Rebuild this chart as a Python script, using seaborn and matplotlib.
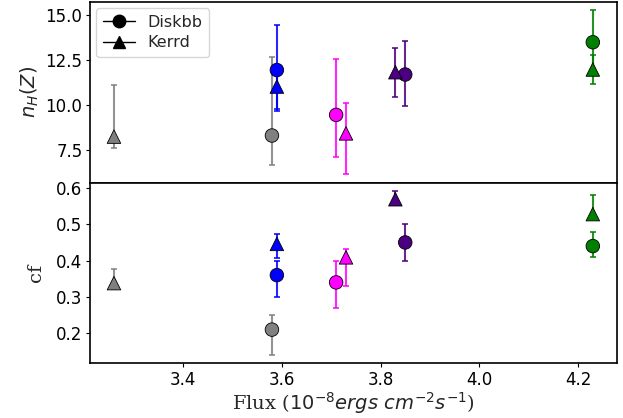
import matplotlib.pyplot as plt
import matplotlib.lines as mlines
import seaborn as sns
import pandas as pd

# colours of each observation
colors = ['grey', 'blue', 'magenta', 'indigo', 'green']

# flux values
flux_disk = [3.58, 3.59, 3.71, 3.85, 4.23]
flux_kerr = [3.26, 3.59, 3.73, 3.83, 4.23]

# nH (Z) with asymmetric errors
nh_disk = [8.3, 11.95, 9.45, 11.7, 13.5]
nh_disk_lo = [1.64, 2.15, 2.37, 1.78, 1.5]
nh_disk_hi = [4.37, 2.5, 3.11, 1.85, 1.78]
nh_kerr = [8.24, 11.03, 8.42, 11.83, 11.98]
nh_kerr_lo = [0.61, 1.34, 2.29, 1.36, 0.83]
nh_kerr_hi = [2.89, 1.0, 1.7, 1.34, 0.8]

# covering fraction with asymmetric errors
cf_disk = [0.21, 0.36, 0.34, 0.45, 0.44]
cf_disk_lo = [0.07, 0.06, 0.07, 0.05, 0.03]
cf_disk_hi = [0.04, 0.04, 0.06, 0.05, 0.04]
cf_kerr = [0.338, 0.446, 0.409, 0.569, 0.528]
cf_kerr_lo = [0.016, 0.04, 0.08, 0.01, 0.01]
cf_kerr_hi = [0.04, 0.027, 0.022, 0.023, 0.053]

sns.set_style('ticks')
plt.rcParams['axes.edgecolor'] = 'black'
plt.rcParams['xtick.color'] = 'black'
plt.rcParams['ytick.color'] = 'black'
plt.rcParams['font.size'] = 12

fig, axes = plt.subplots(2, 1, figsize=(6.23, 4.18), dpi=100, sharex=True)
fig.subplots_adjust(left=0.1445, right=0.99, top=0.995, bottom=0.131, hspace=0)

palette = {c: c for c in colors}


def draw(ax, x, y, lo, hi, marker):
    for i, c in enumerate(colors):
        ax.errorbar(x[i], y[i], yerr=[[lo[i]], [hi[i]]], fmt='none', ecolor=c,
                    elinewidth=1.5, capsize=2.5, capthick=1.3, alpha=0.85, zorder=2)
    df = pd.DataFrame({'x': x, 'y': y, 'c': colors})
    sns.scatterplot(data=df, x='x', y='y', hue='c', palette=palette, marker=marker,
                    s=95, edgecolor='black', linewidth=0.6, legend=False, ax=ax, zorder=3)


draw(axes[0], flux_disk, nh_disk, nh_disk_lo, nh_disk_hi, 'o')
draw(axes[0], flux_kerr, nh_kerr, nh_kerr_lo, nh_kerr_hi, '^')
draw(axes[1], flux_disk, cf_disk, cf_disk_lo, cf_disk_hi, 'o')
draw(axes[1], flux_kerr, cf_kerr, cf_kerr_lo, cf_kerr_hi, '^')

for ax in axes:
    ax.tick_params(labelsize=12, direction='out', length=3, pad=2.5)
    for s in ax.spines.values():
        s.set_linewidth(1.2)

axes[0].set_yticks([7.5, 10.0, 12.5, 15.0])
axes[0].set_ylabel('$n_H(Z)$', fontsize=14, labelpad=3)
axes[0].set_xlabel('')
axes[1].set_yticks([0.2, 0.3, 0.4, 0.5, 0.6])
axes[1].set_ylabel('cf', fontsize=14, family='DejaVu Serif', labelpad=8)
axes[1].set_xticks([3.4, 3.6, 3.8, 4.0, 4.2])
axes[1].set_xlabel(r'Flux ($10^{-8} ergs\ cm^{-2} s^{-1}$)', fontsize=14,
                   family='DejaVu Serif', labelpad=1)

h1 = mlines.Line2D([], [], color='black', marker='o', markersize=9, lw=1, label='Diskbb')
h2 = mlines.Line2D([], [], color='black', marker='^', markersize=9, lw=1, label='Kerrd')
axes[0].legend(handles=[h1, h2], loc='upper left', fontsize=11.5, frameon=True,
               labelspacing=0.35, borderaxespad=0.4)

fig.savefig('out.png', dpi=100)
